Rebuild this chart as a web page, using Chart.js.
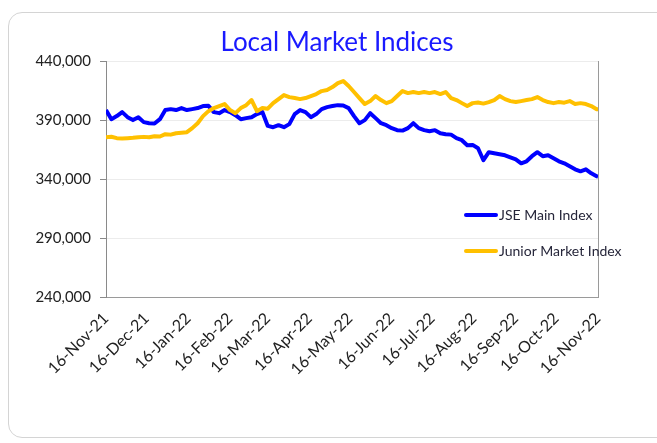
<!DOCTYPE html>
<html>
<head>
<meta charset="utf-8">
<script src="https://cdn.jsdelivr.net/npm/chart.js@4.4.1/dist/chart.umd.min.js"></script>
<style>
  html, body { margin: 0; padding: 0; background: #ffffff; }
  body { width: 657px; height: 443px; position: relative; overflow: hidden; }
  #card { position: absolute; left: 8px; top: 12px; width: 680px; height: 426px;
          border: 1px solid #d4d4d4; border-radius: 14px; background: #fff; box-sizing: border-box; }
  #c { position: absolute; left: 0; top: 0; }
</style>
</head>
<body>
<div id="card"></div>
<canvas id="c" width="657" height="443"></canvas>
<script>
const chartTitle = "Local Market Indices";
const seriesNames = ["JSE Main Index", "Junior Market Index"];

const dates = [
  "2021-11-16","2021-11-20","2021-11-24","2021-11-28",
  "2021-12-02","2021-12-06","2021-12-10","2021-12-14","2021-12-18","2021-12-22","2021-12-26","2021-12-30",
  "2022-01-03","2022-01-07","2022-01-11","2022-01-15","2022-01-19","2022-01-23","2022-01-27","2022-01-31",
  "2022-02-04","2022-02-08","2022-02-12","2022-02-16","2022-02-20","2022-02-24","2022-02-28",
  "2022-03-04","2022-03-08","2022-03-12","2022-03-16","2022-03-20","2022-03-24","2022-03-28",
  "2022-04-01","2022-04-05","2022-04-09","2022-04-13","2022-04-17","2022-04-21","2022-04-25","2022-04-29",
  "2022-05-03","2022-05-07","2022-05-11","2022-05-15","2022-05-19","2022-05-23","2022-05-27","2022-05-31",
  "2022-06-04","2022-06-08","2022-06-12","2022-06-16","2022-06-20","2022-06-24","2022-06-28",
  "2022-07-02","2022-07-06","2022-07-10","2022-07-14","2022-07-18","2022-07-22","2022-07-26","2022-07-30",
  "2022-08-03","2022-08-07","2022-08-11","2022-08-15","2022-08-19","2022-08-23","2022-08-27","2022-08-31",
  "2022-09-04","2022-09-08","2022-09-12","2022-09-16","2022-09-20","2022-09-24","2022-09-28",
  "2022-10-02","2022-10-06","2022-10-10","2022-10-14","2022-10-18","2022-10-22","2022-10-26","2022-10-30",
  "2022-11-03","2022-11-07","2022-11-11","2022-11-15","2022-11-16"
];

const jseMain = [
  398400,390700,393300,396700,
  392400,389900,392400,388200,387300,387000,390700,398400,
  399200,398400,400100,398400,399200,400100,401800,402000,
  396700,395800,398400,396700,394100,390700,391600,
  392400,395000,396700,385000,383900,385600,383900,386500,
  395000,398400,396700,392400,395000,399200,400900,401800,
  402600,402300,400100,393300,387300,389900,395800,391600,
  387300,385600,383100,381400,381000,383100,387300,
  383100,381400,380500,381400,378800,378000,377600,374600,
  372900,368600,368900,366100,355900,362700,361800,361000,
  360100,358400,356700,353300,355000,359300,362700,
  359300,360100,357600,355000,353300,350800,348200,346500,
  348200,344800,342300,342000
];

const juniorMarket = [
  375400,375800,374600,374300,
  374600,374900,375400,375700,375400,376300,376000,378000,
  377600,378800,379200,379700,383100,387300,393300,397500,
  400100,401800,403500,398400,395800,400100,402600,
  406900,397500,400100,399600,404300,407700,411100,409400,
  408600,407700,408600,410300,412000,414500,415400,417900,
  421300,423000,418800,413700,408600,403500,406000,410300,
  406900,404300,406000,410300,414500,412800,413700,
  412800,413700,412800,413700,412000,413700,408600,406900,
  404300,401800,404300,404800,403900,405200,406900,410300,
  407700,406000,405200,406000,406900,407700,409400,
  406900,405200,404300,405200,404700,406000,403500,404300,
  403500,401800,399200,399200
];

const tickDates = ["2021-11-16","2021-12-16","2022-01-16","2022-02-16","2022-03-16","2022-04-16",
  "2022-05-16","2022-06-16","2022-07-16","2022-08-16","2022-09-16","2022-10-16","2022-11-16"];
const tickLabels = ["16-Nov-21","16-Dec-21","16-Jan-22","16-Feb-22","16-Mar-22","16-Apr-22",
  "16-May-22","16-Jun-22","16-Jul-22","16-Aug-22","16-Sep-22","16-Oct-22","16-Nov-22"];
const yTicks = [240000, 290000, 340000, 390000, 440000];

const DAY = 86400000;
const t0 = Date.parse(dates[0]);
const dayOf = s => Math.round((Date.parse(s) - t0) / DAY);
const tickOffsets = tickDates.map(dayOf);

const BLUE = "#0000ff";
const GOLD = "#ffc000";
const FONT = "Lato, 'Open Sans', sans-serif";

const titlePlugin = {
  id: "titleText",
  afterDraw(chart) {
    const ctx = chart.ctx;
    ctx.save();
    ctx.font = "26px " + FONT;
    ctx.fillStyle = "#1a1aff";
    ctx.textAlign = "center";
    ctx.textBaseline = "alphabetic";
    ctx.fillText(chartTitle, 337, 51);
    ctx.restore();
  }
};

const framePlugin = {
  id: "frame",
  beforeDatasetsDraw(chart) {
    const { ctx, chartArea } = chart;
    ctx.save();
    ctx.strokeStyle = "#9a9a9a";
    ctx.lineWidth = 1;
    ctx.beginPath();
    ctx.moveTo(Math.round(chartArea.right) + 0.5, chartArea.top);
    ctx.lineTo(Math.round(chartArea.right) + 0.5, chartArea.bottom);
    ctx.stroke();
    ctx.restore();
  }
};

const legendPlugin = {
  id: "inlineLegend",
  afterDatasetsDraw(chart) {
    const { ctx, chartArea } = chart;
    const x0 = chartArea.left + 360;
    const rows = [chartArea.top + 154, chartArea.top + 190];
    ctx.save();
    chart.data.datasets.forEach((ds, i) => {
      const y = rows[i];
      ctx.strokeStyle = ds.borderColor;
      ctx.lineWidth = 4;
      ctx.lineCap = "round";
      ctx.beginPath();
      ctx.moveTo(x0, y);
      ctx.lineTo(x0 + 30, y);
      ctx.stroke();
      ctx.font = "14px " + FONT;
      ctx.fillStyle = "#26263a";
      ctx.textAlign = "left";
      ctx.textBaseline = "middle";
      ctx.fillText(ds.label, x0 + 33, y);
    });
    ctx.restore();
  }
};

const toPoints = arr => arr.map((v, i) => ({ x: dayOf(dates[i]), y: v }));

new Chart(document.getElementById("c"), {
  type: "line",
  data: {
    datasets: [
      { label: seriesNames[0], data: toPoints(jseMain), borderColor: BLUE, backgroundColor: BLUE,
        borderWidth: 4, pointRadius: 0, tension: 0, order: 1, borderJoinStyle: "round" },
      { label: seriesNames[1], data: toPoints(juniorMarket), borderColor: GOLD, backgroundColor: GOLD,
        borderWidth: 4, pointRadius: 0, tension: 0, order: 0, borderJoinStyle: "round" }
    ]
  },
  options: {
    responsive: false,
    animation: false,
    devicePixelRatio: 1,
    layout: { padding: { top: 61, left: 0, right: 59, bottom: 0 } },
    plugins: { legend: { display: false }, title: { display: false }, tooltip: { enabled: false } },
    scales: {
      x: {
        type: "linear",
        min: 0,
        max: tickOffsets[tickOffsets.length - 1],
        afterBuildTicks: s => { s.ticks = tickOffsets.map(v => ({ value: v })); },
        afterFit: s => { s.height = 146; },
        grid: { display: false, drawTicks: false },
        border: { display: true, color: "#9a9a9a", width: 1 },
        ticks: {
          autoSkip: false, minRotation: 45, maxRotation: 45, padding: 12,
          color: "#222", font: { family: FONT, size: 16 },
          callback: (v, i) => tickLabels[i]
        }
      },
      y: {
        min: yTicks[0],
        max: yTicks[yTicks.length - 1],
        afterBuildTicks: s => { s.ticks = yTicks.map(v => ({ value: v })); },
        afterFit: s => { s.width = 106; },
        grid: { color: "#ececec", lineWidth: 1, drawTicks: true, tickLength: 6, tickColor: "#8a8a8a" },
        border: { display: true, color: "#8a8a8a", width: 1 },
        ticks: {
          padding: 9, color: "#222", font: { family: FONT, size: 15 },
          callback: v => v.toLocaleString("en-US")
        }
      }
    }
  },
  plugins: [framePlugin, legendPlugin, titlePlugin]
});
</script>
</body>
</html>
